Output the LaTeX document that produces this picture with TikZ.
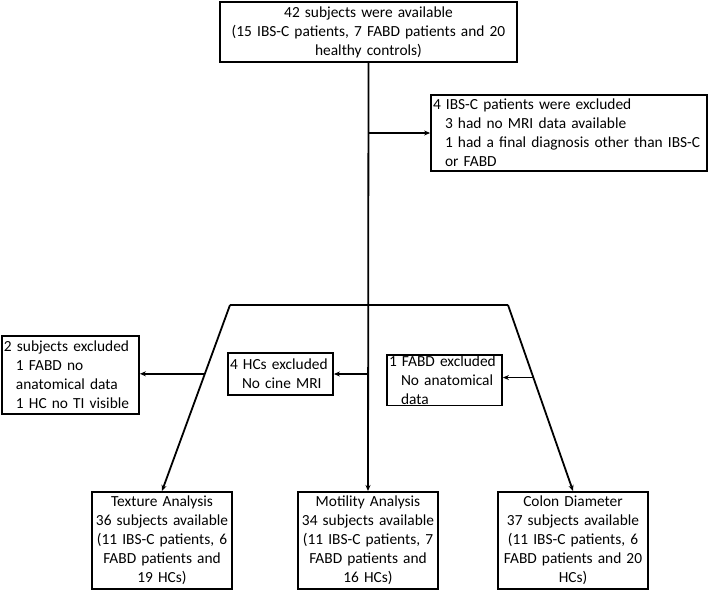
\documentclass[tikz,border=0pt]{standalone}
\usepackage{fontspec}
\setmainfont{Carlito}
\usepackage{tikz}
\usetikzlibrary{arrows.meta}
\usetikzlibrary{calc}

\newcommand{\ind}{\hspace*{12pt}}

\begin{document}
\begin{tikzpicture}[x=1pt,y=-1pt,
% Box styles
    every node/.style={font={\fontsize{15.4pt}{19pt}\selectfont}},
    mainbox/.style={rectangle,draw,line width=1.8pt,align=center,
		inner xsep=2pt,inner ysep=1pt},
    exclbox/.style={rectangle,draw,line width=1.8pt,align=left,
		inner xsep=2pt,inner ysep=1pt},
% Line style
    flow/.style={line width=1.8pt},
    arr/.style={line width=1.8pt,-{Stealth[length=6pt,width=5pt]}}
    ]
  \useasboundingbox (0,0) rectangle (709,592);

  \node (top) [mainbox,text width=293pt,minimum height=60pt] at (368.5,32)
    {42 subjects were available\\(15 IBS-C patients, 7 FABD patients and 20\\healthy controls)};
  \node (excl) [exclbox,text width=272pt,minimum height=76pt] at (569,133)
    {4 IBS-C patients were excluded\\\ind 3 had no MRI data available\\\ind 1 had a final diagnosis other than IBS-C\\\ind or FABD};

  % results
  \node (tex) [mainbox,text width=136pt,minimum height=97pt,anchor=north] at (162,491)
    {Texture Analysis\\36 subjects available\\(11 IBS-C patients, 6\\FABD patients and\\19 HCs)};
  \node (mot) [mainbox,text width=136pt,minimum height=97pt,anchor=north] at (368,491)
    {Motility Analysis\\34 subjects available\\(11 IBS-C patients, 7\\FABD patients and\\16 HCs)};
  \node (col) [mainbox,text width=146pt,minimum height=97pt,anchor=north] at (573,491)
    {Colon Diameter\\37 subjects available\\(11 IBS-C patients, 6\\FABD patients and 20\\HCs)};

  % exclusions per analysis
  \node (lex) [exclbox,text width=133pt,minimum height=78pt] at (70.5,375)
    {2 subjects excluded\\\ind 1 FABD no\\\ind anatomical data\\\ind 1 HC no TI visible};
  \node (mex) [exclbox,text width=101pt,minimum height=42pt] at (280.5,374)
    {4 HCs excluded\\\ind No cine MRI};
  \node (rex) [exclbox,text width=111pt,minimum height=48pt] at (444.5,380)
    {1 FABD excluded\\\ind No anatomical\\\ind data};

  \coordinate (trapL) at (230,305);
  \coordinate (trapR) at (508,305);

  \draw[arr] (top.south) -- (mot.north);
  \draw[arr] (excl.west -| top.south) -- (excl.west);
  \draw[flow] (trapL) -- (trapR);
  \draw[arr] (trapL) -- (tex.north);
  \draw[arr] (trapR) -- (col.north);

  \coordinate (l1) at ($(trapL)!0.37!(tex.north)$);
  \coordinate (r1) at ($(trapR)!0.39!(col.north)$);
  \draw[arr] (l1) -- (l1 -| lex.east);
  \draw[arr] (top.south |- mex.east) -- (mex.east);
  \draw[arr] (r1) -- (r1 -| rex.east);

\end{tikzpicture}
\end{document}
